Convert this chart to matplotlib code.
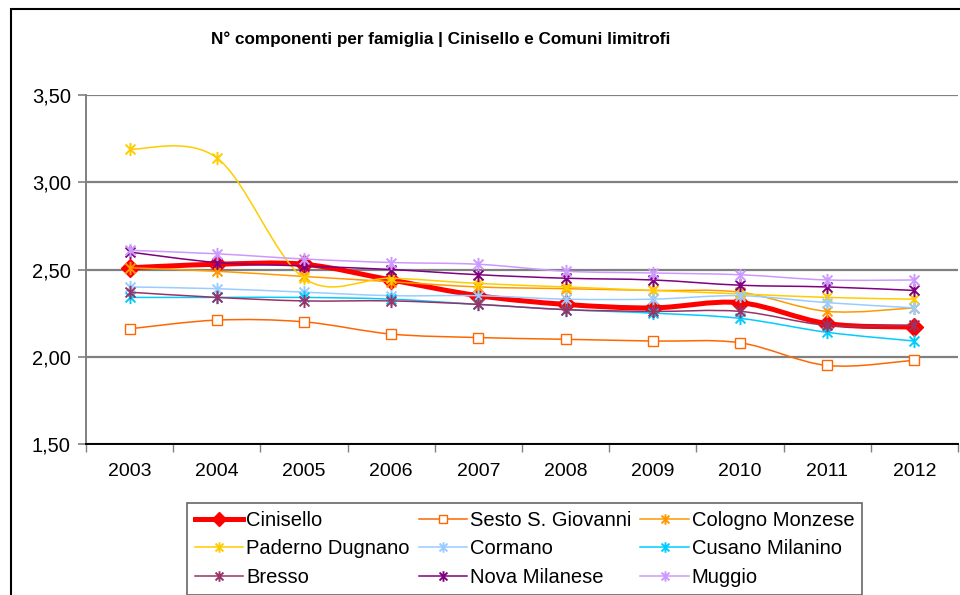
import numpy as np
from matplotlib import pyplot as plt
from matplotlib.path import Path
from matplotlib.patches import PathPatch, Rectangle
from matplotlib.lines import Line2D

plt.rcParams['font.family'] = ['Liberation Sans', 'DejaVu Sans']

years = ['2003', '2004', '2005', '2006', '2007', '2008', '2009', '2010', '2011', '2012']

cinisello = [2.51, 2.53, 2.53, 2.44, 2.35, 2.30, 2.28, 2.31, 2.19, 2.17]
sesto = [2.16, 2.21, 2.20, 2.13, 2.11, 2.10, 2.09, 2.08, 1.95, 1.98]
cologno = [2.51, 2.49, 2.46, 2.43, 2.40, 2.39, 2.38, 2.37, 2.26, 2.28]
paderno = [3.19, 3.14, 2.45, 2.45, 2.42, 2.40, 2.38, 2.36, 2.34, 2.33]
cormano = [2.40, 2.39, 2.37, 2.35, 2.35, 2.33, 2.33, 2.35, 2.31, 2.28]
cusano = [2.34, 2.34, 2.34, 2.33, 2.30, 2.27, 2.25, 2.22, 2.14, 2.09]
bresso = [2.37, 2.34, 2.32, 2.32, 2.30, 2.27, 2.26, 2.26, 2.18, 2.18]
nova = [2.60, 2.54, 2.52, 2.50, 2.47, 2.45, 2.44, 2.41, 2.40, 2.38]
muggio = [2.61, 2.59, 2.56, 2.54, 2.53, 2.49, 2.48, 2.47, 2.44, 2.44]

names = ['Cinisello', 'Sesto S. Giovanni', 'Cologno Monzese', 'Paderno Dugnano',
         'Cormano', 'Cusano Milanino', 'Bresso', 'Nova Milanese', 'Muggio']
series = [cinisello, sesto, cologno, paderno, cormano, cusano, bresso, nova, muggio]
colors = ['#FF0000', '#FF6600', '#FF9900', '#FFCC00', '#99CCFF',
          '#00CCFF', '#993366', '#800080', '#CC99FF']

# excel-like star marker: vertical bar + X
star = Path([(0, -1), (0, 1), (-0.75, -0.75), (0.75, 0.75), (-0.75, 0.75), (0.75, -0.75)],
            [Path.MOVETO, Path.LINETO, Path.MOVETO, Path.LINETO, Path.MOVETO, Path.LINETO])


def smoothPath(xs, ys):
    # bezier segments through the points (excel "smoothed line")
    n = len(xs)
    verts = [(xs[0], ys[0])]
    codes = [Path.MOVETO]
    for i in range(n - 1):
        a = i - 1 if i > 0 else i
        b = i + 2 if i + 2 < n else i + 1
        c1 = (xs[i] + (xs[i + 1] - xs[a]) / 6, ys[i] + (ys[i + 1] - ys[a]) / 6)
        c2 = (xs[i + 1] - (xs[b] - xs[i]) / 6, ys[i + 1] - (ys[b] - ys[i]) / 6)
        verts += [c1, c2, (xs[i + 1], ys[i + 1])]
        codes += [Path.CURVE4] * 3
    return Path(verts, codes)


fig = plt.figure(figsize=(9.6, 5.95), dpi=100)
ax = fig.add_axes([86 / 960, 1 - 444 / 595, 872 / 960, 349 / 595])

x = np.arange(len(years))
handles = []
for i, (name, vals, col) in enumerate(zip(names, series, colors)):
    if i == 0:
        lw, mk, ms, mfc, mew = 3.6, 'D', 9.5, col, 1
    elif i == 1:
        lw, mk, ms, mfc, mew = 1.1, 's', 6.5, 'white', 1.0
    else:
        lw, mk, ms, mfc, mew = 1.1, star, 9.5, col, 1.4
    ax.add_patch(PathPatch(smoothPath(x, vals), fill=False, edgecolor=col, lw=lw,
                           zorder=3 + i * 0.1, capstyle='round', joinstyle='round'))
    ax.plot(x, vals, ls='none', marker=mk, ms=ms, mfc=mfc, mec=col, mew=mew,
            zorder=3 + i * 0.1 + 0.05)
    handles.append(Line2D([], [], color=col, lw=lw, marker=mk, ms=ms * 0.8, mfc=mfc,
                          mec=col, mew=mew))

ax.set_xlim(-0.5, len(years) - 0.5)
ax.set_ylim(1.5, 3.5)
ax.set_yticks([1.5, 2.0, 2.5, 3.0, 3.5])
ax.set_yticklabels(['1,50', '2,00', '2,50', '3,00', '3,50'])
ax.set_xticks(x)
ax.set_xticklabels(years)
ax.set_xticks(np.arange(-0.5, len(years)), minor=True)
ax.tick_params(axis='x', which='major', length=0, pad=14, labelsize=14)
ax.tick_params(axis='x', which='minor', length=6, color='#808080', width=1)
ax.tick_params(axis='y', length=6, color='#808080', width=1.2, pad=5, labelsize=14.5)
ax.grid(axis='y', color='#808080', lw=1.6)
ax.set_axisbelow(True)
for s in ['top', 'right']:
    ax.spines[s].set_visible(False)
ax.spines['left'].set_color('#808080')
ax.spines['left'].set_linewidth(1.4)
ax.spines['bottom'].set_color('black')
ax.spines['bottom'].set_linewidth(1.4)
ax.spines['bottom'].set_zorder(5)

fig.text(441 / 960, 1 - 39 / 595, 'N° componenti per famiglia | Cinisello e Comuni limitrofi',
         ha='center', va='center', fontsize=12.3, fontweight='bold')

order = [0, 3, 6, 1, 4, 7, 2, 5, 8]
leg = fig.legend([handles[k] for k in order], [names[k] for k in order], ncol=3,
                 loc='upper left', bbox_to_anchor=(187 / 960, 1 - 503 / 595),
                 fontsize=14.5, frameon=True, fancybox=False, edgecolor='#404040',
                 handlelength=2.4, handletextpad=0.15, columnspacing=0.45,
                 labelspacing=0.48, borderpad=0.38, borderaxespad=0)
leg.get_frame().set_linewidth(1.2)

fig.add_artist(Rectangle((11 / 960, -0.1), 2, 1.1 - 9.5 / 595, transform=fig.transFigure,
                         fill=False, edgecolor='black', lw=1.5))

fig.savefig('out.png', dpi=100)
